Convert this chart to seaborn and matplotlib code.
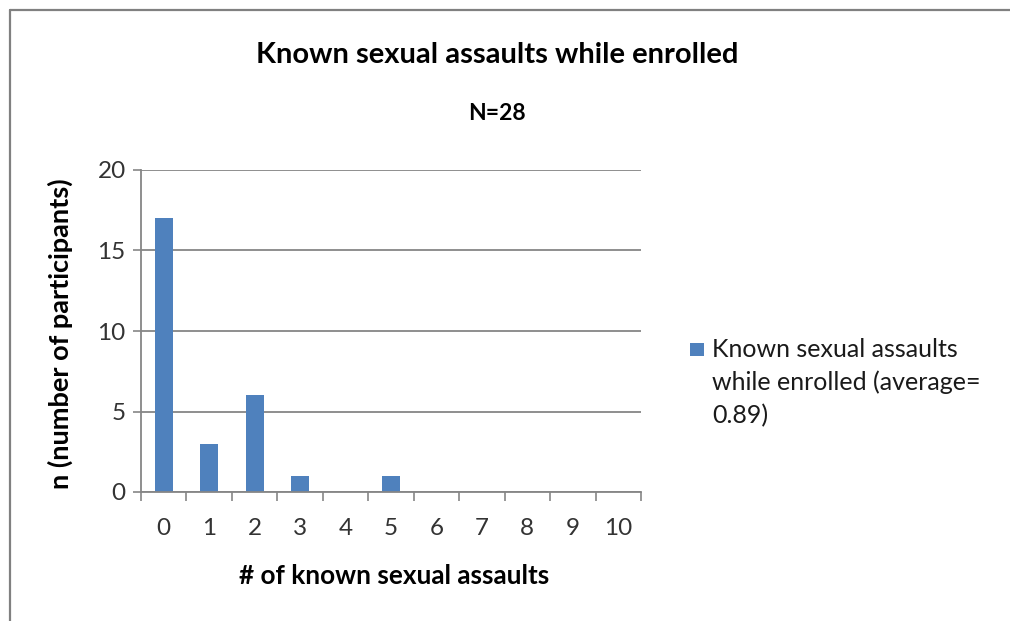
import matplotlib
matplotlib.use("Agg")
import matplotlib.pyplot as plt
from matplotlib.lines import Line2D
from matplotlib.patches import Rectangle
from matplotlib.ticker import FixedLocator
import seaborn as sns
import pandas as pd

# Histogram of known sexual assaults per participant
assault_counts = ["0", "1", "2", "3", "4", "5", "6", "7", "8", "9", "10"]
participants = [17, 3, 6, 1, 0, 1, 0, 0, 0, 0, 0]
y_ticks = [0, 5, 10, 15, 20]

title = "Known sexual assaults while enrolled"
subtitle = "N=28"
x_label = "# of known sexual assaults"
y_label = "n (number of participants)"
legend_lines = ["Known sexual assaults", "while enrolled (average=", "0.89)"]

BAR = "#4F81BD"
GRID = "#868686"
TICK_TEXT = "#333333"
FONT = "Lato"

sns.set_theme(style="white")
plt.rcParams["font.family"] = [FONT, "DejaVu Sans"]

W, H = 1010, 621
fig = plt.figure(figsize=(W / 100, H / 100), dpi=100)
ax = fig.add_axes([141 / W, 1 - 492 / H, 500 / W, 322 / H])

df = pd.DataFrame({"count": assault_counts, "n": participants})
sns.barplot(data=df, x="count", y="n", order=assault_counts, color=BAR,
            saturation=1, width=0.39, edgecolor="none", ax=ax)

ax.set_xlim(-0.5, len(assault_counts) - 0.5)
ax.set_ylim(0, 20)
ax.set_yticks(y_ticks)
ax.set_yticklabels([str(v) for v in y_ticks])
ax.yaxis.grid(True, color=GRID, linewidth=1.3)
ax.xaxis.grid(False)
ax.set_axisbelow(True)

# category boundaries carry the x tick marks; labels sit at the centres
ax.xaxis.set_minor_locator(FixedLocator([i - 0.5 for i in range(len(assault_counts) + 1)]))
ax.tick_params(axis="x", which="major", length=0, pad=19, labelsize=17.5, labelcolor=TICK_TEXT)
ax.tick_params(axis="x", which="minor", length=6.5, width=1.2, color=GRID, direction="out", bottom=True)
ax.tick_params(axis="y", which="major", length=6, width=1.2, color=GRID, direction="out",
               left=True, pad=5, labelsize=17.5, labelcolor=TICK_TEXT)

for side in ("top", "right"):
    ax.spines[side].set_visible(False)
for side in ("left", "bottom"):
    ax.spines[side].set_color(GRID)
    ax.spines[side].set_linewidth(1.3)

ax.set_xlabel("")
ax.set_ylabel("")

fig.text(497.5 / W, 1 - 63 / H, title, ha="center", va="baseline",
         fontsize=21, fontweight="bold", color="black")
fig.text(497 / W, 1 - 120 / H, subtitle, ha="center", va="baseline",
         fontsize=16.5, fontweight="bold", color="black")
fig.text(394 / W, 1 - 584 / H, x_label, ha="center", va="baseline",
         fontsize=18.8, fontweight="bold", color="black")
fig.text(60 / W, 1 - 334 / H, y_label, ha="center", va="center", rotation=90,
         fontsize=19.5, fontweight="bold", color="black")

# legend entry
fig.patches.append(Rectangle((690 / W, 1 - 356 / H), 14 / W, 13 / H,
                             transform=fig.transFigure, facecolor=BAR, edgecolor="none"))
for i, line in enumerate(legend_lines):
    fig.text(712 / W, 1 - (357 + 33 * i) / H, line, ha="left", va="baseline",
             fontsize=18, color="#1a1a1a")

# chart frame
fig.add_artist(Line2D([9.5 / W, 9.5 / W], [0, 1 - 9.5 / H], transform=fig.transFigure,
                      color="#808080", linewidth=1.6))
fig.add_artist(Line2D([9.5 / W, 1], [1 - 9.5 / H, 1 - 9.5 / H], transform=fig.transFigure,
                      color="#808080", linewidth=1.6))

fig.savefig("out.png", dpi=100, facecolor="white")
